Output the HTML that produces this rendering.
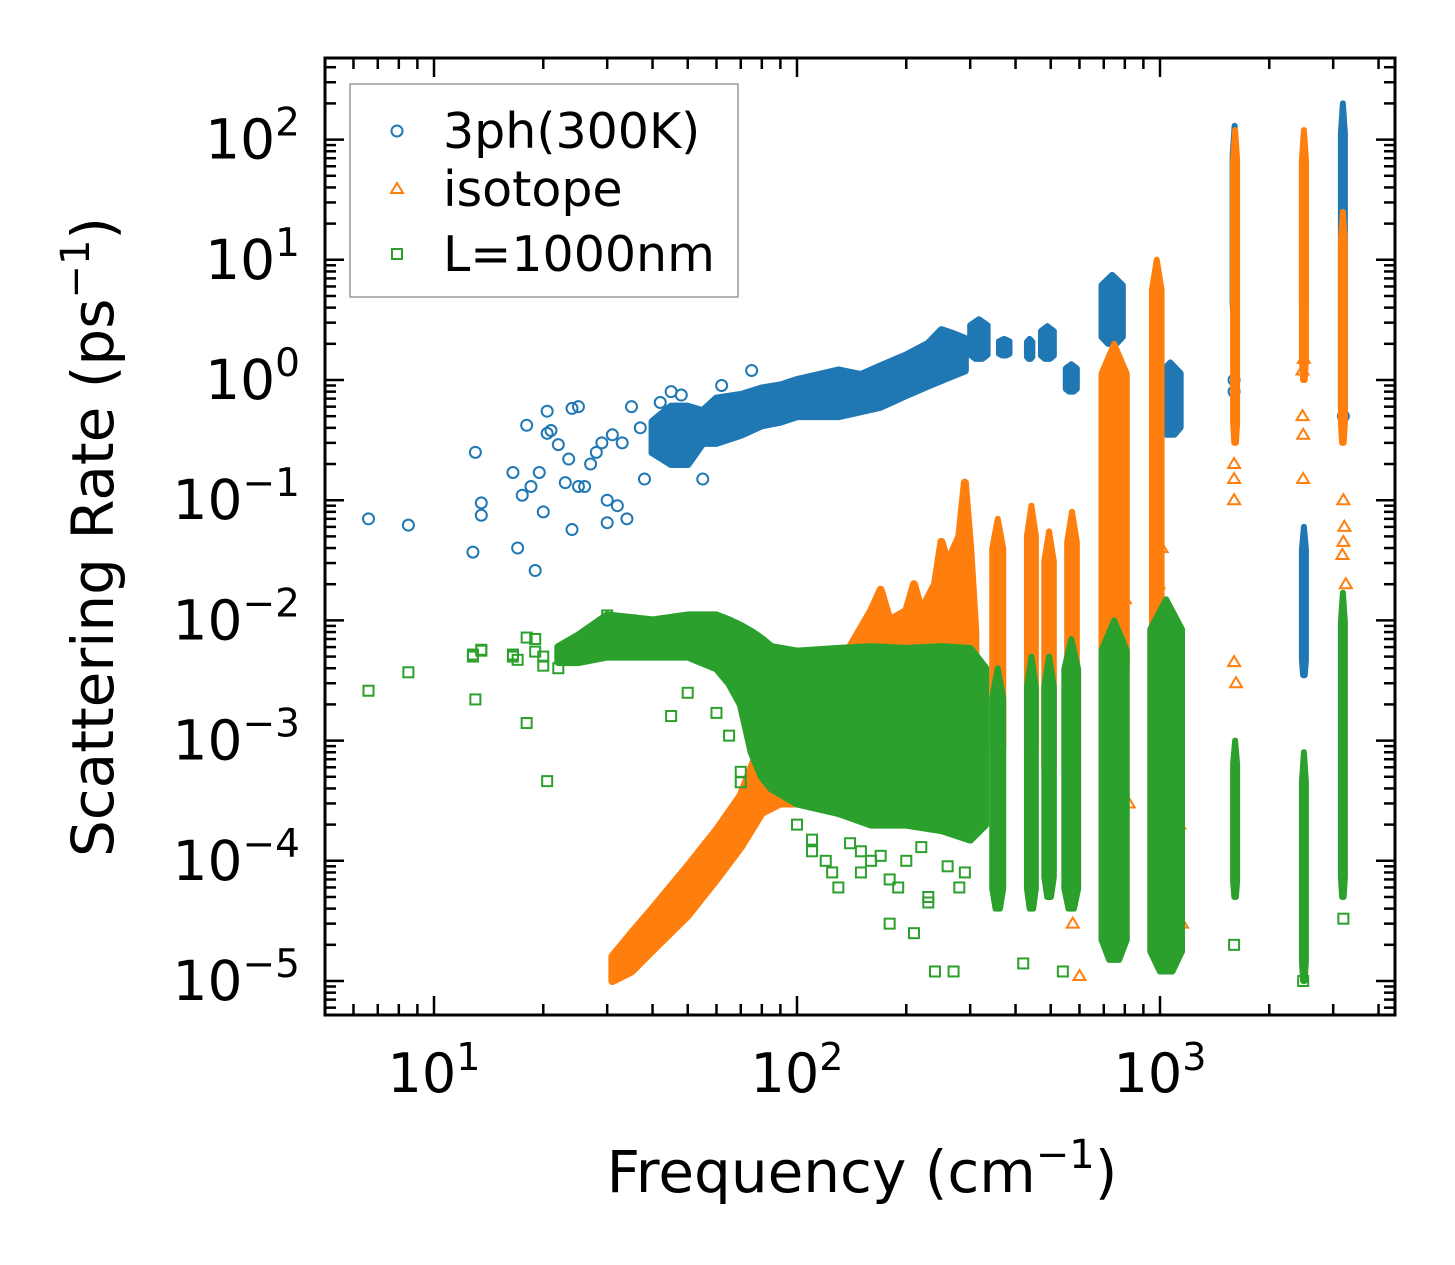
<!DOCTYPE html>
<html><head><meta charset="utf-8"><style>
html,body{margin:0;padding:0;background:#fff;}
svg{display:block;font-family:"DejaVu Sans","Liberation Sans",sans-serif;}
</style></head><body>
<svg id="chart" width="1455" height="1265" viewBox="0 0 1455 1265" xmlns="http://www.w3.org/2000/svg">
<rect width="1455" height="1265" fill="#fff"/>
<defs><clipPath id="clip"><rect x="325" y="58" width="1070" height="957"/></clipPath></defs>
<g id="plot" clip-path="url(#clip)"></g>
<g id="axes"></g>
<rect x="325" y="58" width="1070" height="957" fill="none" stroke="#000" stroke-width="3"/>
<text x="862" y="1192" font-size="58" text-anchor="middle">Frequency (cm<tspan font-size="40" dy="-24">−1</tspan><tspan dy="24">)</tspan></text>
<text transform="translate(113,537) rotate(-90)" font-size="58" text-anchor="middle">Scattering Rate (ps<tspan font-size="40" dy="-24">−1</tspan><tspan dy="24">)</tspan></text>
<g>
<rect x="350" y="84" width="388" height="213" fill="#fff" stroke="#999" stroke-width="1.5"/>
<circle cx="397" cy="131" r="5.5" fill="none" stroke="#1f77b4" stroke-width="2"/>
<text x="443" y="148" font-size="49">3ph(300K)</text>
<path d="M397,183 L403,193 L391,193 Z" fill="none" stroke="#ff7f0e" stroke-width="2"/>
<text x="443" y="206" font-size="49">isotope</text>
<rect x="392" y="249" width="10" height="10" fill="none" stroke="#2ca02c" stroke-width="2"/>
<text x="443" y="271" font-size="49">L=1000nm</text>
</g>
</svg>
<script>
// ---- data ----
const xTickValues=[10,100,1000];
const xTickLabels=["1","2","3"];
const yTickValues=[1e2,1e1,1e0,1e-1,1e-2,1e-3,1e-4,1e-5];
const yTickLabels=["2","1","0","−1","−2","−3","−4","−5"];
// blue (3ph) main envelope
const blueBandF=[40,45,50,55,60,70,80,90,100,115,130,150,170,200,230,250,270,290];
const blueBandLo=[0.25,0.2,0.2,0.3,0.3,0.35,0.42,0.45,0.5,0.5,0.5,0.55,0.6,0.75,0.9,1.0,1.1,1.2];
const blueBandHi=[0.45,0.6,0.6,0.55,0.7,0.75,0.85,0.9,1.0,1.1,1.2,1.1,1.3,1.6,2.0,2.6,2.4,2.2];
// blue clusters: fLo,fHi,yLo,yHi
const blueClF1=[300,360,430,470,550,690,1000,1585,2460,2460,3150];
const blueClF2=[335,385,445,510,590,790,1140,1620,2500,2500,3230];
const blueClLo=[1.5,1.6,1.5,1.5,0.8,2.0,0.35,3,0.0035,3,0.4];
const blueClHi=[3.2,2.2,2.2,2.8,1.35,7.5,1.4,130,0.06,110,200];
const blueX=[6.6,8.5,12.8,13,13.5,13.5,16.5,17,17.5,18,18.5,19,19.5,20,20.5,20.5,21,22,23,23.5,24,24,25,25,26,27,28,29,30,30,31,32,33,34,35,37,38,42,45,48,55,62,75,1600,1600,3200];
const blueY=[0.07,0.062,0.037,0.25,0.095,0.075,0.17,0.04,0.11,0.42,0.13,0.026,0.17,0.08,0.55,0.36,0.38,0.29,0.14,0.22,0.057,0.58,0.6,0.13,0.13,0.2,0.25,0.3,0.065,0.1,0.35,0.09,0.3,0.07,0.6,0.4,0.15,0.65,0.8,0.75,0.15,0.9,1.2,1.0,0.8,0.5];
// orange (isotope) envelope
const orBandF=[31,35,40,50,60,70,80,90,100,120,140,160,170,180,200,210,220,240,250,260,280,290,300,310];
const orBandLo=[1e-5,1.2e-5,1.8e-5,3.5e-5,7e-5,1.3e-4,2.5e-4,3e-4,3e-4,3e-4,3e-4,3e-4,3e-4,3e-4,3e-4,3e-4,3e-4,3e-4,3e-4,3e-4,3e-4,3e-4,3e-4,3e-4];
const orBandHi=[1.6e-5,2.5e-5,4e-5,9e-5,1.8e-4,3.5e-4,1e-3,2e-3,3e-3,4.5e-3,6e-3,0.012,0.018,0.01,0.012,0.02,0.012,0.02,0.045,0.03,0.05,0.14,0.04,0.008];
const orClF1=[345,430,480,555,690,950,1590,2460,3150];
const orClF2=[370,455,510,590,810,1010,1620,2500,3230];
const orClLo=[6e-4,6e-4,4e-4,3e-4,3e-3,1e-3,0.3,1.0,0.3];
const orClHi=[0.07,0.09,0.055,0.08,2.0,10,120,120,25];
const orX=[1600,1600,1600,1600,1620,2470,2480,2480,2490,2470,3200,3220,3180,3250,3200,1130,1150,980,760,820,760,600,575,720,740,760,780,800,990,1000,1010];
const orY=[0.2,0.15,0.1,0.0045,0.003,0.5,0.35,0.15,1.5,1.2,0.1,0.06,0.035,0.02,0.045,2e-4,3e-5,5e-5,8e-5,3e-4,0.02,1.1e-5,3e-5,0.05,0.02,0.01,0.03,0.015,0.02,0.006,0.04];
// green (boundary) envelope
const grBandF=[22,25,30,40,50,60,65,70,75,80,85,100,130,160,200,250,300,330];
const grBandLo=[0.0045,0.0045,0.005,0.005,0.005,0.004,0.003,0.002,8e-4,5e-4,4e-4,3e-4,2.5e-4,2e-4,2e-4,1.8e-4,1.5e-4,2e-4];
const grBandHi=[0.006,0.0075,0.011,0.01,0.011,0.011,0.01,0.009,0.008,0.007,0.006,0.0055,0.0058,0.006,0.0058,0.006,0.0058,0.004];
const grClF1=[345,430,480,545,690,940,1590,2460,3150];
const grClF2=[370,455,510,595,810,1150,1620,2500,3230];
const grClLo=[4e-5,4e-5,5e-5,4e-5,1.5e-5,1.2e-5,5e-5,1e-5,5e-5];
const grClHi=[4e-3,5e-3,5e-3,7e-3,1e-2,1.5e-2,1e-3,8e-4,1.7e-2];
const grX=[6.6,8.5,12.8,13,13.5,16.5,17,18,19,20,20.5,22,24,30,35,45,50,60,65,70,70,100,110,120,130,150,160,180,200,210,230,240,270,280,420,540,1600,2480,3200,110,125,140,170,190,220,260,150,180,230,290,12.8,13.5,16.5,18,19,20];
const grY=[0.0026,0.0037,0.0052,0.0022,0.0056,0.005,0.0047,0.0014,0.007,0.005,0.00046,0.004,0.006,0.011,0.01,0.0016,0.0025,0.0017,0.0011,0.00055,0.00045,0.0002,0.00015,0.0001,6e-5,8e-5,1e-4,3e-5,1e-4,2.5e-5,4.5e-5,1.2e-5,1.2e-5,6e-5,1.4e-5,1.2e-5,2e-5,1e-5,3.3e-5,1.2e-4,8e-5,1.4e-4,1.1e-4,6e-5,1.3e-4,9e-5,1.2e-4,7e-5,5e-5,8e-5,0.005,0.0057,0.0052,0.0072,0.0055,0.0042];

// ---- scales ----
const X0=434, DX=363, Y0=380, DY=120.2;
function xs(f){return X0+DX*(Math.log10(f)-1);}
function ys(v){return Y0-DY*Math.log10(v);}
const NS="http://www.w3.org/2000/svg";
const plot=document.getElementById('plot'), axes=document.getElementById('axes');
function mk(tag,attrs,parent){const e=document.createElementNS(NS,tag);for(const k in attrs)e.setAttribute(k,attrs[k]);parent.appendChild(e);return e;}

function band(F,Lo,Hi,color,name){
  let d="M"+xs(F[0])+","+ys(Lo[0]);
  for(let i=1;i<F.length;i++)d+=" L"+xs(F[i])+","+ys(Lo[i]);
  for(let i=F.length-1;i>=0;i--)d+=" L"+xs(F[i])+","+ys(Hi[i]);
  const p=mk('path',{d:d+" Z",fill:color,stroke:color,'stroke-width':8,'stroke-linejoin':'round'},plot);
  
  
}
function clusters(F1,F2,Lo,Hi,color,name){
  for(let i=0;i<F1.length;i++){
    const x1=xs(F1[i]),x2=Math.max(xs(F1[i])+4,xs(F2[i])),yt=ys(Hi[i]),yb=ys(Lo[i]),xm=(x1+x2)/2,w=x2-x1;
    const d=`M${xm},${yt} L${x2},${yt+Math.min(30,(yb-yt)*0.15)} L${x2},${yb-Math.min(20,(yb-yt)*0.1)} L${xm+w*0.2},${yb} L${xm-w*0.2},${yb} L${x1},${yb-Math.min(20,(yb-yt)*0.1)} L${x1},${yt+Math.min(30,(yb-yt)*0.15)} Z`;
    const r=mk('path',{d:d,fill:color,stroke:color,'stroke-width':6,'stroke-linejoin':'round'},plot);
    
    
  }
}
function circles(X,Y,color,name){
  for(let i=0;i<X.length;i++){
    const c=mk('circle',{cx:xs(X[i]),cy:ys(Y[i]),r:5.5,fill:'none',stroke:color,'stroke-width':2},plot);
    
    
  }
}
function tris(X,Y,color,name){
  for(let i=0;i<X.length;i++){
    const x=xs(X[i]),y=ys(Y[i]);
    const t=mk('path',{d:`M${x},${y-6} L${x+6},${y+4} L${x-6},${y+4} Z`,fill:'none',stroke:color,'stroke-width':2},plot);
    
    
  }
}
function squares(X,Y,color,name){
  for(let i=0;i<X.length;i++){
    const s=mk('rect',{x:xs(X[i])-5,y:ys(Y[i])-5,width:10,height:10,fill:'none',stroke:color,'stroke-width':2},plot);
    
    
  }
}
const B="#1f77b4",O="#ff7f0e",G="#2ca02c";
band(blueBandF,blueBandLo,blueBandHi,B,'3ph-band');
clusters(blueClF1,blueClF2,blueClLo,blueClHi,B,'3ph-cluster');
circles(blueX,blueY,B,'3ph-point');
band(orBandF,orBandLo,orBandHi,O,'isotope-band');
clusters(orClF1,orClF2,orClLo,orClHi,O,'isotope-cluster');
tris(orX,orY,O,'isotope-point');
band(grBandF,grBandLo,grBandHi,G,'boundary-band');
clusters(grClF1,grClF2,grClLo,grClHi,G,'boundary-cluster');
squares(grX,grY,G,'boundary-point');

// ---- ticks ----
const L=325,R=1395,T=58,Bt=1015;
function line(x1,y1,x2,y2){return mk('line',{x1,y1,x2,y2,stroke:'#000','stroke-width':2.5},axes);}
for(let d=0;d<=3;d++){
  for(let m=1;m<=9;m++){
    const f=Math.pow(10,d)*m; const x=xs(f);
    if(x<L||x>R)continue;
    const len=m===1?19:11;
    line(x,Bt,x,Bt-len);line(x,T,x,T+len);
  }
}
for(let d=-6;d<=2;d++){
  for(let m=1;m<=9;m++){
    const v=Math.pow(10,d)*m; const y=ys(v);
    if(y<T||y>Bt)continue;
    const len=m===1?19:11;
    line(L,y,L+len,y);line(R,y,R-len,y);
  }
}
for(let i=0;i<xTickValues.length;i++){
  const t=mk('text',{x:xs(xTickValues[i]),y:1092,'font-size':54,'text-anchor':'middle'},axes);
  
  
  t.innerHTML='10<tspan font-size="38" dy="-22">'+xTickLabels[i]+'</tspan>';
}
for(let i=0;i<yTickValues.length;i++){
  const t=mk('text',{x:300,y:ys(yTickValues[i])+19,'font-size':55,'text-anchor':'end'},axes);
  
  
  t.innerHTML='10<tspan font-size="39" dy="-23">'+yTickLabels[i]+'</tspan>';
}
</script>
</body></html>
